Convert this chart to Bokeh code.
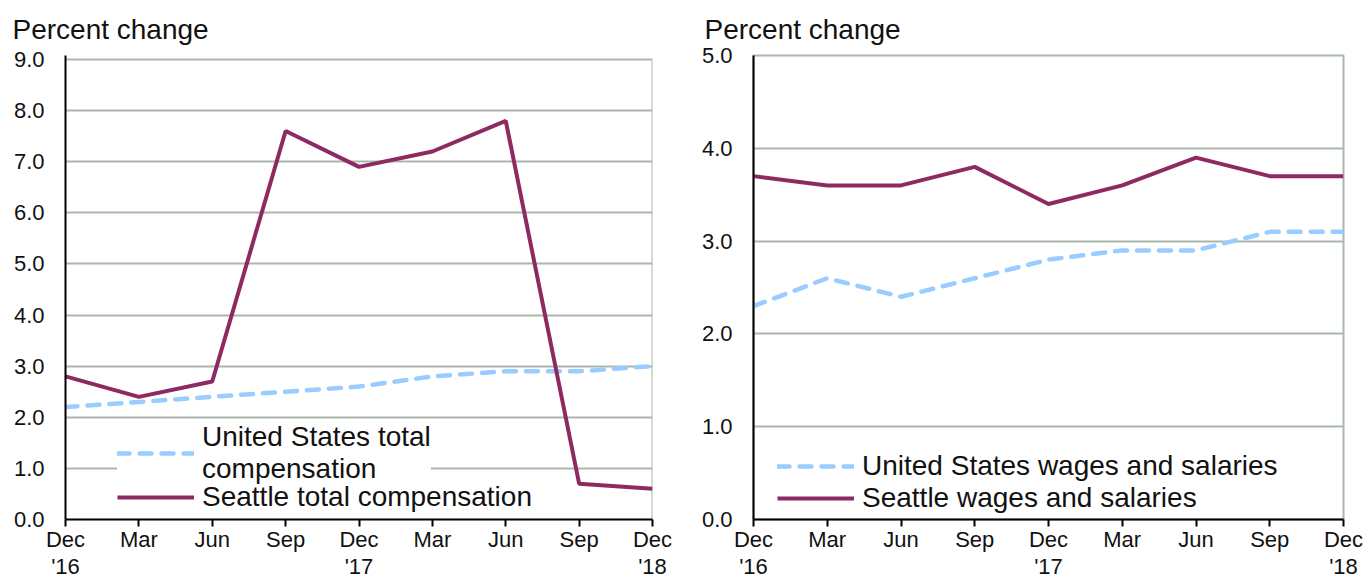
from bokeh.plotting import figure
from bokeh.models import FixedTicker, PrintfTickFormatter, Legend, LegendItem, Range1d
from bokeh.layouts import row
from bokeh.embed import file_html
from bokeh.resources import INLINE

quarters = ["Dec\n'16", "Mar", "Jun", "Sep", "Dec\n'17", "Mar", "Jun", "Sep", "Dec\n'18"]
us_total = [2.2, 2.3, 2.4, 2.5, 2.6, 2.8, 2.9, 2.9, 3.0]
seattle_total = [2.8, 2.4, 2.7, 7.6, 6.9, 7.2, 7.8, 0.7, 0.6]
us_wages = [2.3, 2.6, 2.4, 2.6, 2.8, 2.9, 2.9, 3.1, 3.1]
seattle_wages = [3.7, 3.6, 3.6, 3.8, 3.4, 3.6, 3.9, 3.7, 3.7]
left_yticks = [0, 1, 2, 3, 4, 5, 6, 7, 8, 9]
right_yticks = [0, 1, 2, 3, 4, 5]
y_title = "Percent change"

FONT = "Liberation Sans"
GRID = "#A9B8A9"
MAROON = "#8E2A62"
BLUE = "#99CCFF"
TXT = "#111111"
HEIGHT = 582


def style_legend(legend, opaque):
    legend.label_text_font = FONT
    legend.label_text_font_size = "28px"
    legend.label_text_color = TXT
    legend.glyph_width = 77
    legend.label_standoff = 8
    legend.spacing = 0
    legend.padding = 0
    legend.margin = 0
    legend.border_line_color = None
    legend.background_fill_color = "white"
    legend.background_fill_alpha = 1.0 if opaque else 0.0


def make_panel(us, sea, yticks, y_end, us_label, sea_label, width, bl, br, bt, bb,
               leg_x, leg_y, leg_y2, title_off, own_border, split_legend):
    xs = list(range(len(quarters)))
    p = figure(width=width, height=HEIGHT, output_backend="svg", toolbar_location=None,
               x_range=Range1d(0, len(quarters) - 1), y_range=Range1d(yticks[0], y_end),
               min_border_left=bl, min_border_right=br, min_border_top=bt, min_border_bottom=bb,
               title=y_title)
    p.title.align = "left"
    p.title.offset = title_off
    p.title.text_font = FONT
    p.title.text_font_size = "28px"
    p.title.text_font_style = "normal"
    p.title.text_color = TXT
    p.title.standoff = 21
    p.background_fill_color = "white"
    p.border_fill_color = "white"
    if own_border:
        p.outline_line_color = None
        p.segment(x0=[xs[-1]], y0=[yticks[0]], x1=[xs[-1]], y1=[yticks[-1]],
                  line_color=GRID, line_width=2)
    else:
        p.outline_line_color = GRID
        p.outline_line_width = 2

    p.xgrid.visible = False
    p.ygrid.ticker = FixedTicker(ticks=yticks)
    p.ygrid.grid_line_color = GRID
    p.ygrid.grid_line_width = 2

    p.xaxis.ticker = FixedTicker(ticks=xs)
    p.xaxis.major_label_overrides = {i: q for i, q in enumerate(quarters)}
    p.xaxis.axis_line_color = "black"
    p.xaxis.axis_line_width = 2
    p.xaxis.major_tick_in = 0
    p.xaxis.major_tick_out = 7
    p.xaxis.major_tick_line_width = 2
    p.xaxis.major_tick_line_color = "black"
    p.xaxis.minor_tick_line_color = None
    p.xaxis.major_label_text_font = FONT
    p.xaxis.major_label_text_font_size = "22px"
    p.xaxis.major_label_text_line_height = 1.1
    p.xaxis.major_label_text_color = TXT
    p.xaxis.major_label_standoff = 0

    p.yaxis.ticker = FixedTicker(ticks=yticks)
    p.yaxis.formatter = PrintfTickFormatter(format="%.1f")
    p.yaxis.axis_line_color = "black"
    p.yaxis.axis_line_width = 2
    p.yaxis.major_tick_in = 0
    p.yaxis.major_tick_out = 0
    p.yaxis.minor_tick_line_color = None
    p.yaxis.major_label_text_font = FONT
    p.yaxis.major_label_text_font_size = "22px"
    p.yaxis.major_label_text_color = TXT
    p.yaxis.major_label_standoff = 21

    r_us = p.line(xs, us, line_color=BLUE, line_width=4.5, line_dash="12 10", line_cap="round")
    r_sea = p.line(xs, sea, line_color=MAROON, line_width=4)

    if split_legend:
        leg_sea = Legend(items=[LegendItem(label=sea_label, renderers=[r_sea])],
                         location=(leg_x, leg_y))
        style_legend(leg_sea, opaque=False)
        leg_us = Legend(items=[LegendItem(label=us_label, renderers=[r_us])],
                        location=(leg_x, leg_y2))
        style_legend(leg_us, opaque=True)
        p.add_layout(leg_us, "center")
        p.add_layout(leg_sea, "center")
    else:
        legend = Legend(items=[LegendItem(label=us_label, renderers=[r_us]),
                               LegendItem(label=sea_label, renderers=[r_sea])],
                        location=(leg_x, leg_y))
        style_legend(legend, opaque=True)
        p.add_layout(legend, "center")
    return p


# left frame spans 4px more than the 9.0 gridline so both panels share one frame top
left_end = left_yticks[-1] * 464 / 460
p1 = make_panel(us_total, seattle_total, left_yticks, left_end,
                "United States total\ncompensation", "Seattle total compensation",
                width=698, bl=65, br=46, bt=55, bb=63, leg_x=52, leg_y=6, leg_y2=34,
                title_off=-53, own_border=True, split_legend=True)
p2 = make_panel(us_wages, seattle_wages, right_yticks, right_yticks[-1],
                "United States wages and salaries", "Seattle wages and salaries",
                width=671, bl=54, br=26, bt=55, bb=63, leg_x=24, leg_y=5, leg_y2=0,
                title_off=-49, own_border=False, split_legend=False)

layout = row(p1, p2)
open("out.html", "w").write(file_html(layout, INLINE))
